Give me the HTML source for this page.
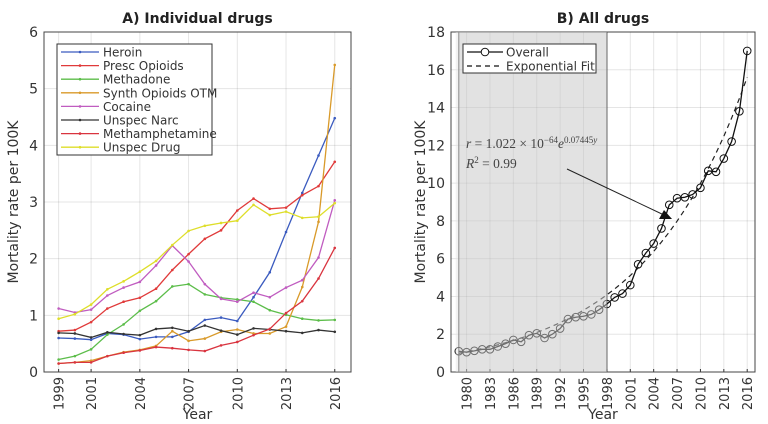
<!DOCTYPE html>
<html><head><meta charset="utf-8"><style>
body{margin:0;background:#fff}
svg{display:block;font-family:"DejaVu Sans","Liberation Sans",sans-serif}
</style></head><body>
<svg id="c" width="768" height="424" viewBox="0 0 768 424" xmlns="http://www.w3.org/2000/svg"></svg>
<script>
const yearsA = [1999,2000,2001,2002,2003,2004,2005,2006,2007,2008,2009,2010,2011,2012,2013,2014,2015,2016];
const seriesNames = ["Heroin","Presc Opioids","Methadone","Synth Opioids OTM","Cocaine","Unspec Narc","Methamphetamine","Unspec Drug"];
const seriesColors = ["#3b5bbf","#e03a3a","#5cbd4a","#d99a2a","#c05cc0","#333333","#d9343f","#dede2a"];
const heroin = [.6,.59,.57,.68,.66,.58,.62,.62,.71,.92,.96,.9,1.32,1.76,2.47,3.16,3.82,4.48];
const prescOpioids = [.72,.74,.88,1.12,1.24,1.31,1.47,1.8,2.08,2.35,2.5,2.85,3.06,2.88,2.9,3.12,3.28,3.71];
const methadone = [.22,.28,.4,.66,.84,1.08,1.25,1.51,1.55,1.37,1.31,1.28,1.24,1.09,1.01,.94,.91,.92];
const synthOpioids = [.15,.17,.2,.28,.35,.39,.46,.72,.55,.59,.71,.75,.68,.68,.8,1.5,2.65,5.42];
const cocaine = [1.12,1.05,1.1,1.35,1.49,1.59,1.88,2.23,1.95,1.55,1.29,1.24,1.4,1.32,1.49,1.62,2.02,3.03];
const unspecNarc = [.69,.68,.61,.7,.67,.65,.76,.78,.72,.82,.73,.66,.77,.75,.72,.69,.74,.71];
const meth = [.15,.17,.17,.28,.34,.38,.44,.42,.39,.37,.47,.53,.65,.76,1.04,1.25,1.65,2.19];
const unspecDrug = [.94,1.02,1.19,1.46,1.6,1.77,1.96,2.24,2.49,2.58,2.63,2.67,2.95,2.77,2.83,2.72,2.74,2.98];
const seriesA = [heroin,prescOpioids,methadone,synthOpioids,cocaine,unspecNarc,meth,unspecDrug];
const xTicksA = [1999,2001,2004,2007,2010,2013,2016];
const yTicksA = [0,1,2,3,4,5,6];

const yearsB = [];
for (let y=1979;y<=2016;y++) yearsB.push(y);
const overall = [1.1,1.05,1.12,1.2,1.2,1.35,1.5,1.7,1.6,1.95,2.05,1.8,2.0,2.3,2.8,2.9,2.95,3.05,3.3,3.6,3.95,4.15,4.6,5.7,6.3,6.8,7.6,8.85,9.2,9.25,9.4,9.75,10.65,10.6,11.3,12.2,13.8,17.0];
const fitA = 1.022e-64, fitB = 0.07445;
const xTicksB = [1980,1983,1986,1989,1992,1995,1998,2001,2004,2007,2010,2013,2016];
const yTicksB = [0,2,4,6,8,10,12,14,16,18];

const NS="http://www.w3.org/2000/svg";
const svg=document.getElementById('c');
function el(tag,attrs,parent,text){const e=document.createElementNS(NS,tag);for(const k in attrs)e.setAttribute(k,attrs[k]);if(text!==undefined)e.textContent=text;(parent||svg).appendChild(e);return e;}

function panel(o){
  const g=el('g',{});
  
  
  const sx=v=>o.L+(v-o.x0)/(o.x1-o.x0)*(o.R-o.L);
  const sy=v=>o.B-(v-o.y0)/(o.y1-o.y0)*(o.B-o.T);
  if(o.shade){const r=el('rect',{x:sx(o.shade[0]),y:o.T,width:sx(o.shade[1])-sx(o.shade[0]),height:o.B-o.T,fill:'#e2e2e2'},g);
    }
  o.xt.forEach(t=>{const l=el('line',{x1:sx(t),x2:sx(t),y1:o.T,y2:o.B,stroke:'#000','stroke-opacity':0.1,'stroke-width':1},g);
    
    el('line',{x1:sx(t),x2:sx(t),y1:o.B,y2:o.B-3,stroke:'#333'},g);
    const tx=el('text',{x:0,y:0,transform:`translate(${sx(t)+5},${o.B+5}) rotate(-90)`,'text-anchor':'end','font-size':13,fill:'#333'},g,String(t));
    });
  o.yt.forEach(t=>{const l=el('line',{x1:o.L,x2:o.R,y1:sy(t),y2:sy(t),stroke:'#000','stroke-opacity':0.1,'stroke-width':1},g);
    
    const tx=el('text',{x:o.L-6,y:sy(t)+5,'text-anchor':'end','font-size':14,fill:'#333'},g,String(t));
    });
  if(o.vline){const v=el('line',{x1:sx(o.vline),x2:sx(o.vline),y1:o.T,y2:o.B,stroke:'#444','stroke-width':1},g);
    
    const v2=el('line',{x1:sx(o.shade[0]),x2:sx(o.shade[0]),y1:o.T,y2:o.B,stroke:'#444','stroke-width':1},g);
    }
  const box=el('rect',{x:o.L,y:o.T,width:o.R-o.L,height:o.B-o.T,fill:'none',stroke:'#444','stroke-width':1},g);
  
  const ti=el('text',{x:(o.L+o.R)/2,y:o.T-9,'text-anchor':'middle','font-size':14,'font-weight':'bold',fill:'#222'},g,o.title);
  
  const xl=el('text',{x:(o.L+o.R)/2,y:419,'text-anchor':'middle','font-size':14,fill:'#333'},g,'Year');
  
  const yl=el('text',{x:0,y:0,transform:`translate(${o.L-26},${(o.T+o.B)/2}) rotate(-90)`,'text-anchor':'middle','font-size':14,fill:'#333'},g,'Mortality rate per 100K');
  
  return {g,sx,sy};
}

// Panel A
const A=panel({name:'panel-a',L:44,R:351,T:32,B:372,x0:1998.1,x1:2017,y0:0,y1:6,xt:xTicksA,yt:yTicksA,title:'A) Individual drugs'});
seriesA.forEach((s,i)=>{
  const p=el('polyline',{points:s.map((v,j)=>A.sx(yearsA[j])+','+A.sy(v)).join(' '),fill:'none',stroke:seriesColors[i],'stroke-width':1.3},A.g);
  
  s.forEach((v,j)=>{const c=el('circle',{cx:A.sx(yearsA[j]),cy:A.sy(v),r:1.3,fill:seriesColors[i]},A.g);
    });
});
const lgA=el('g',{},A.g);

el('rect',{x:57,y:44,width:155,height:111,fill:'#fff',stroke:'#333','stroke-width':1},lgA);
seriesNames.forEach((n,i)=>{const y=52+i*13.6;
  el('line',{x1:61,x2:99,y1:y,y2:y,stroke:seriesColors[i],'stroke-width':1.3},lgA);
  el('circle',{cx:80,cy:y,r:1.3,fill:seriesColors[i]},lgA);
  const t=el('text',{x:103,y:y+4.5,'font-size':12,fill:'#333'},lgA,n);
  });

// Panel B
const B=panel({name:'panel-b',L:451,R:755,T:32,B:372,x0:1978,x1:2017,y0:0,y1:18,xt:xTicksB,yt:yTicksB,title:'B) All drugs',shade:[1979,1998],vline:1998});
const fitPts=yearsB.map(y=>B.sx(y)+','+B.sy(fitA*Math.exp(fitB*y))).join(' ');
const fl=el('polyline',{points:fitPts,fill:'none',stroke:'#222','stroke-width':1.2,'stroke-dasharray':'5,4'},B.g);

const ol=el('polyline',{points:overall.map((v,j)=>B.sx(yearsB[j])+','+B.sy(v)).join(' '),fill:'none',stroke:'#111','stroke-width':1.3},B.g);

overall.forEach((v,j)=>{const c=el('circle',{cx:B.sx(yearsB[j]),cy:B.sy(v),r:3.8,fill:'none',stroke:'#111','stroke-width':1},B.g);
  });
const ov=el('rect',{x:B.sx(1978.6),y:32,width:B.sx(1998)-B.sx(1978.6),height:340,fill:'#e2e2e2','fill-opacity':0.45},B.g);

const ann=el('text',{x:466,y:148,'font-size':13.5,'font-family':'Liberation Serif, serif',fill:'#444'},B.g);

ann.innerHTML='<tspan font-style="italic">r</tspan> = 1.022 × 10<tspan dy="-5" font-size="9">−64</tspan><tspan dy="5" font-style="italic">e</tspan><tspan dy="-5" font-size="9">0.07445<tspan font-style="italic">y</tspan></tspan>';
const r2=el('text',{x:466,y:168,'font-size':13.5,'font-family':'Liberation Serif, serif',fill:'#444'},B.g);

r2.innerHTML='<tspan font-style="italic">R</tspan><tspan dy="-5" font-size="9">2</tspan><tspan dy="5"> = 0.99</tspan>';
const ar=el('line',{x1:567,y1:169,x2:664,y2:215,stroke:'#222','stroke-width':1},B.g);

el('polygon',{points:'672,219 659,219 664,210',fill:'#111'},B.g);
const lgB=el('g',{},B.g);

el('rect',{x:463,y:44,width:133,height:29,fill:'#fff',stroke:'#333'},lgB);
el('line',{x1:467,x2:503,y1:52,y2:52,stroke:'#111','stroke-width':1.3},lgB);
el('circle',{cx:485,cy:52,r:3.8,fill:'#fff',stroke:'#111'},lgB);
el('text',{x:506,y:56.5,'font-size':12,fill:'#333'},lgB,'Overall');
el('line',{x1:467,x2:503,y1:66,y2:66,stroke:'#111','stroke-width':1.2,'stroke-dasharray':'5,4'},lgB);
el('text',{x:506,y:70.5,'font-size':12,fill:'#333'},lgB,'Exponential Fit');
</script>
</body></html>
